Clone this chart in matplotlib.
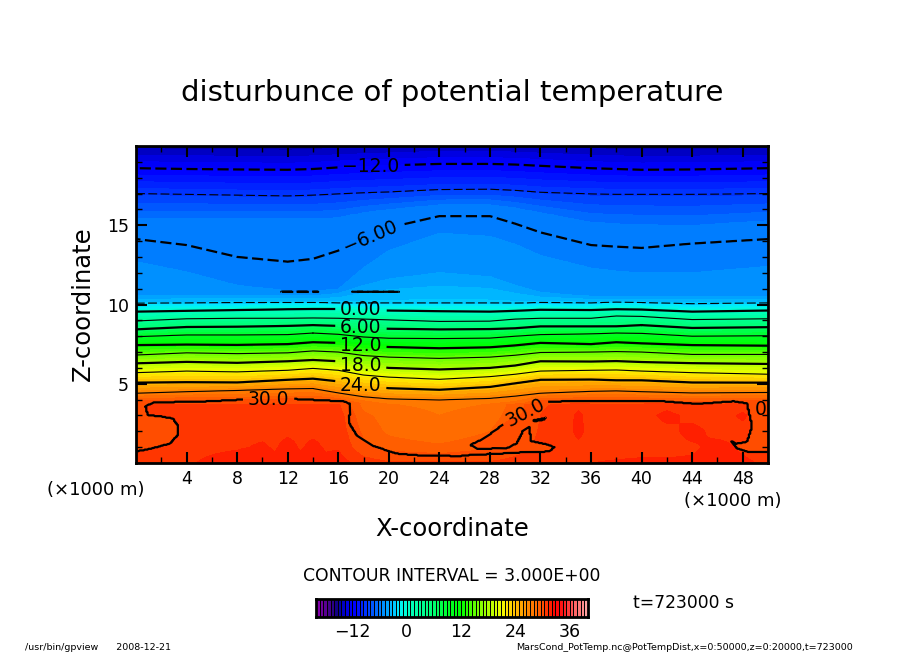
import numpy as np
import matplotlib
matplotlib.use("Agg")
import matplotlib.pyplot as plt
from matplotlib.colors import LinearSegmentedColormap, BoundaryNorm
from matplotlib.path import Path

W, H = 904, 654

# contour heights (km) at these x stations (x1000 m)
stations = [0, 4, 8, 12, 14, 16, 18, 20, 24, 28, 30, 32, 36, 38, 40, 44, 50]
theta_levels = [-15, -12, -9, -6.4, -6, -5.6, -4.8, -3, 0, 3, 6, 9, 12, 15, 18, 21, 24, 27, 30]
h_m15 = [20.15, 20.1, 20.1, 20.05, 20.1, 20.15, 20.2, 20.25, 20.35, 20.35, 20.3, 20.25, 20.15, 20.1, 20.1, 20.1, 20.15]
h_m12 = [18.6, 18.55, 18.52, 18.5, 18.55, 18.65, 18.72, 18.78, 18.87, 18.87, 18.83, 18.75, 18.6, 18.55, 18.5, 18.52, 18.6]
h_m9 = [17.0, 16.95, 16.9, 16.85, 16.9, 16.98, 17.05, 17.1, 17.25, 17.27, 17.2, 17.08, 16.98, 16.95, 16.95, 16.95, 17.0]
h_m64 = [15.4, 15.4, 15.4, 15.4, 15.4, 15.5, 15.8, 16.0, 16.3, 16.3, 16.1, 15.8, 15.2, 15.1, 15.05, 15.0, 15.3]
h_m6 = [14.13, 13.75, 13.0, 12.7, 12.88, 13.4, 14.07, 14.85, 15.58, 15.58, 15.1, 14.55, 13.75, 13.65, 13.57, 13.85, 14.13]
h_m56 = [12.7, 12.05, 11.2, 10.85, 10.85, 10.95, 12.3, 13.4, 14.5, 14.3, 13.8, 13.1, 12.3, 12.1, 12.0, 12.0, 12.4]
h_m48 = [10.55, 10.55, 10.55, 10.55, 10.55, 10.7, 11.2, 11.6, 12.0, 11.75, 11.2, 10.75, 10.5, 10.5, 10.5, 10.5, 10.5]
h_m3 = [10.08, 10.1, 10.12, 10.12, 10.12, 10.1, 10.1, 10.1, 10.1, 10.1, 10.08, 10.12, 10.1, 10.15, 10.12, 10.05, 10.1]
h_0 = [9.55, 9.6, 9.65, 9.7, 9.72, 9.72, 9.66, 9.62, 9.58, 9.55, 9.6, 9.67, 9.65, 9.7, 9.68, 9.55, 9.62]
h_3 = [8.96, 9.1, 9.13, 9.13, 9.15, 9.13, 9.08, 9.03, 8.93, 8.95, 9.08, 9.13, 9.13, 9.28, 9.25, 9.05, 9.1]
h_6 = [8.43, 8.58, 8.6, 8.65, 8.7, 8.65, 8.52, 8.47, 8.43, 8.45, 8.5, 8.62, 8.62, 8.62, 8.7, 8.52, 8.57]
h_9 = [7.97, 8.08, 8.08, 8.1, 8.2, 8.12, 7.95, 7.87, 7.85, 7.88, 8.0, 8.1, 8.15, 8.2, 8.18, 8.0, 8.03]
h_12 = [7.44, 7.47, 7.45, 7.5, 7.62, 7.58, 7.4, 7.32, 7.24, 7.3, 7.42, 7.58, 7.5, 7.62, 7.55, 7.44, 7.4]
h_15 = [6.81, 6.95, 6.9, 6.95, 7.07, 7.0, 6.78, 6.68, 6.6, 6.68, 6.8, 6.97, 7.0, 7.03, 7.0, 6.85, 6.85]
h_18 = [6.29, 6.38, 6.32, 6.42, 6.5, 6.42, 6.15, 6.0, 5.9, 6.0, 6.15, 6.42, 6.4, 6.43, 6.37, 6.3, 6.25]
h_21 = [5.7, 5.8, 5.75, 5.85, 5.97, 5.85, 5.55, 5.42, 5.28, 5.45, 5.6, 5.8, 5.85, 5.87, 5.8, 5.7, 5.6]
h_24 = [5.07, 5.1, 5.08, 5.25, 5.32, 5.15, 4.85, 4.72, 4.62, 4.8, 5.03, 5.25, 5.27, 5.22, 5.22, 5.08, 5.07]
h_27 = [4.4, 4.5, 4.58, 4.68, 4.7, 4.42, 4.18, 4.05, 3.98, 4.08, 4.22, 4.4, 4.52, 4.55, 4.5, 4.42, 4.45]
h_30 = [3.85, 3.85, 3.86, 3.88, 3.88, 3.85, 3.4, 3.0, 3.0, 3.0, 3.2, 3.85, 3.85, 3.85, 3.85, 3.8, 3.85]
level_heights = [h_m15, h_m12, h_m9, h_m64, h_m6, h_m56, h_m48, h_m3, h_0, h_3, h_6, h_9,
                 h_12, h_15, h_18, h_21, h_24, h_27, h_30]

# near-surface potential temperature
low_x = [0, 4, 8, 10, 11, 12, 13, 14, 15, 16, 18, 20, 24, 28, 32, 34, 35, 36, 40, 42, 44, 46, 48, 49, 50]
low_z = [0, 1, 2, 3, 3.75]
low_0 = [31.0, 31.1, 31.6, 32.0, 31.4, 32.1, 31.5, 32.0, 31.4, 31.6, 30.8, 30.5, 30.5, 30.5, 30.8, 31.0, 31.2, 31.2, 31.3, 31.3, 31.3, 31.4, 31.3, 31.2, 31.2]
low_1 = [30.9, 31.0, 31.1, 31.3, 31.1, 31.5, 31.1, 31.4, 31.1, 31.1, 29.8, 29.3, 29.0, 29.5, 30.6, 30.9, 31.0, 31.0, 31.0, 31.0, 31.1, 31.4, 31.1, 31.0, 31.0]
low_2 = [30.8, 30.8, 31.0, 31.0, 31.0, 31.0, 31.0, 31.0, 31.0, 30.9, 29.4, 28.6, 28.0, 28.8, 30.5, 30.9, 31.4, 30.9, 30.9, 31.0, 31.4, 31.0, 31.0, 31.0, 30.9]
low_3 = [30.8, 30.8, 31.0, 31.0, 31.0, 31.0, 31.0, 31.0, 30.8, 30.8, 29.0, 28.4, 28.0, 28.3, 30.4, 30.8, 31.4, 30.8, 30.9, 31.4, 31.0, 30.9, 31.3, 31.0, 30.8]
low_4 = [30.5, 30.5, 30.6, 30.6, 30.6, 30.6, 30.6, 30.6, 30.5, 30.5, 28.4, 28.0, 27.8, 28.0, 30.3, 30.5, 30.9, 30.6, 30.6, 30.9, 30.5, 30.5, 30.9, 30.6, 30.5]
low_rows = [low_0, low_1, low_2, low_3, low_4]

# the 30-degree contour
c30_x = [-1, 0.05, 1.11, 2.69, 3.35, 3.4, 2.95, 1.9, 0.98, 0.79, 1.37, 4.8, 8.49, 12.45, 16.4, 16.93, 16.88,
         17.46, 18.78, 20.6, 22.5, 25.6, 26.4, 30.4, 32.75, 33.1, 32.75, 31.3, 31.1, 30.6, 30.1, 29.3, 27.0,
         26.4, 27.5, 29.3, 32.5, 34.9, 41.7, 44.4, 47.3, 48.3, 48.7, 48.3, 47.5, 46.95, 47.5, 48.6, 51, 51, -1]
c30_z = [0.71, 0.71, 0.88, 1.2, 1.77, 2.29, 2.82, 2.97, 3.03, 3.55, 3.83, 3.87, 4.02, 4.06, 3.91, 3.76, 2.5,
         1.77, 1.09, 0.61, 0.48, 0.44, 0.5, 0.65, 0.71, 1.0, 1.14, 1.39, 2.29, 2.0, 1.24, 0.92, 0.88,
         1.14, 1.56, 2.6, 3.87, 3.93, 3.91, 3.72, 3.91, 3.76, 2.29, 1.35, 1.24, 1.45, 0.92, 0.65, 0.65, -1, -1]
hole_x = [31.4, 31.5, 32.4, 32.3]
hole_z = [2.6, 2.72, 2.85, 2.72]

# thin -6 fragments just above the inversion
dip_ranges = [(11.5, 14.4), (17.1, 20.9)]
dip_z = 10.8
dip_value = -6.1

x_ticks = [4, 8, 12, 16, 20, 24, 28, 32, 36, 40, 44, 48]
y_ticks = [5, 10, 15]
cbar_ticks = [-12, 0, 12, 24, 36]

tone_stops = [(-20, (130, 0, 170)), (-18, (80, 0, 140)), (-16, (20, 0, 130)), (-15, (0, 0, 170)),
              (-13, (0, 0, 245)), (-12, (0, 0, 255)), (-9, (0, 60, 255)), (-6, (0, 130, 255)),
              (-3, (0, 200, 255)), (-2, (0, 240, 255)), (0, (0, 255, 200)), (3, (0, 255, 150)),
              (6, (0, 255, 110)), (9, (0, 255, 40)), (12, (0, 255, 0)), (15, (100, 255, 0)),
              (18, (170, 255, 0)), (21, (240, 255, 0)), (22, (255, 230, 0)), (24, (255, 190, 0)),
              (27, (255, 135, 0)), (30, (255, 85, 0)), (33, (255, 0, 0)), (35, (255, 30, 30)),
              (37, (255, 90, 90)), (40, (255, 160, 160))]

tone_levels = np.arange(-20, 40.01, 0.8)
cmap = LinearSegmentedColormap.from_list(
    "gp", [((v + 20) / 60, tuple(c / 255 for c in rgb)) for v, rgb in tone_stops], N=len(tone_levels) - 1)
norm = BoundaryNorm(tone_levels, cmap.N)

# assemble the field
gx = np.arange(0, 50.01, 0.1)
gz = np.concatenate([np.arange(0, 3.75, 0.05), np.arange(3.75, 20.01, 0.05)])
field = np.zeros((gz.size, gx.size))
heights = np.array(level_heights)
levs = np.array(theta_levels, float)
low = np.array(low_rows)
low_on_x = np.array([np.interp(gx, low_x, r) for r in low])
for j, xv in enumerate(gx):
    hh = np.array([np.interp(xv, stations, h) for h in heights])
    order = np.argsort(hh)
    col = np.interp(gz, hh[order], levs[order])
    lowcol = np.interp(gz, low_z, low_on_x[:, j])
    field[:, j] = np.where(gz < 3.75, lowcol, col)
XX, ZZ = np.meshgrid(gx, gz)
pts = np.column_stack([XX.ravel(), ZZ.ravel()])
inside = Path(np.column_stack([c30_x, c30_z])).contains_points(pts).reshape(XX.shape)
hole = Path(np.column_stack([hole_x, hole_z])).contains_points(pts).reshape(XX.shape)
inside &= ~hole
near = gz[:, None] <= 4.6
field = np.where(near & inside, np.maximum(field, 30.1), field)
field = np.where(near & ~inside, np.minimum(field, 29.9), field)
row = np.argmin(np.abs(gz - dip_z))
for a, b in dip_ranges:
    field[row, (gx >= a) & (gx <= b)] = dip_value

fig = plt.figure(figsize=(W / 100, H / 100), dpi=100)
plt.rcParams['font.family'] = 'DejaVu Sans'


def px_axes(x0, y0, x1, y1):
    return fig.add_axes([x0 / W, 1 - y1 / H, (x1 - x0) / W, (y1 - y0) / H])


def txt(px, py, s, **kw):
    kw.setdefault('ha', 'center')
    kw.setdefault('va', 'center')
    fig.text(px / W, 1 - py / H, s, **kw)


ax = px_axes(136, 146, 768, 463)
ax.contourf(gx, gz, field, levels=tone_levels, cmap=cmap, norm=norm)
thick = [-12, -6, 0, 6, 12, 18, 24, 30]
thin = [-15, -9, -3, 3, 9, 15, 21, 27]
dash = (0, (5, 2))
cs_thick = ax.contour(gx, gz, field, levels=thick, colors='k', linewidths=1.6,
                      linestyles=[dash if v < 0 else 'solid' for v in thick])
ax.contour(gx, gz, field, levels=thin, colors='k', linewidths=0.8,
           linestyles=[(0, (8, 3)) if v < 0 else 'solid' for v in thin])
fmt = {-12: '\u221212.0', -6: '\u22126.00', 0: '0.00', 6: '6.00', 12: '12.0', 18: '18.0', 24: '24.0', 30: '30.0'}
labels = ax.clabel(cs_thick, fmt=fmt, fontsize=13.5, inline=True, inline_spacing=5,
                   manual=[(18.6, 18.7), (18.5, 14.3), (17.8, 9.7), (17.8, 8.6), (17.8, 7.5), (17.8, 6.3),
                           (17.8, 5.0), (10.5, 4.0), (30.8, 3.2)])
for t in labels:
    if t.get_text() not in ('\u22126.00',) and not (t.get_text() == '30.0' and t.get_position()[0] > 20):
        t.set_rotation(0)
ax.text(49.4, 3.35, '0', fontsize=13.5, ha='center', va='center')

ax.set_xlim(0, 50)
ax.set_ylim(0, 20)
ax.set_xticks(x_ticks)
ax.set_xticks(np.arange(2, 50, 4), minor=True)
ax.set_yticks(y_ticks)
ax.set_yticks([v for v in range(1, 20) if v % 5], minor=True)
ax.tick_params(which='major', direction='in', top=True, right=True, length=8, width=1.5, labelsize=12.5, pad=5)
ax.tick_params(which='minor', direction='in', top=True, right=True, length=4, width=1)
for s in ax.spines.values():
    s.set_linewidth(2)

txt(452, 93, 'disturbunce of potential temperature', fontsize=21)
txt(96, 490, '(\u00d71000 m)', fontsize=13)
txt(733, 501, '(\u00d71000 m)', fontsize=13)
txt(452, 529, 'X-coordinate', fontsize=17.5)
txt(83, 304, 'Z-coordinate', fontsize=17.5, rotation=90)
txt(452, 576, 'CONTOUR INTERVAL = 3.000E+00', fontsize=12.4)
txt(684, 603, 't=723000 s', fontsize=12.3)
txt(25, 648, '/usr/bin/gpview      2008-12-21', fontsize=6.8, ha='left')
txt(516, 648, 'MarsCond_PotTemp.nc@PotTempDist,x=0:50000,z=0:20000,t=723000', fontsize=6.8, ha='left')

cax = px_axes(316, 599, 588, 617)
mids = (tone_levels[:-1] + tone_levels[1:]) / 2
cax.pcolormesh(tone_levels, [0, 1], mids[None, :], cmap=cmap, norm=norm, edgecolors='k', linewidth=0.65)
cax.set_xlim(-20, 40)
cax.set_yticks([])
cax.set_xticks(cbar_ticks)
cax.set_xticklabels(['\u221212', '0', '12', '24', '36'])
cax.tick_params(axis='x', length=0, labelsize=12.5, pad=4)
for s in cax.spines.values():
    s.set_linewidth(2)

fig.savefig('out.png', dpi=100)
